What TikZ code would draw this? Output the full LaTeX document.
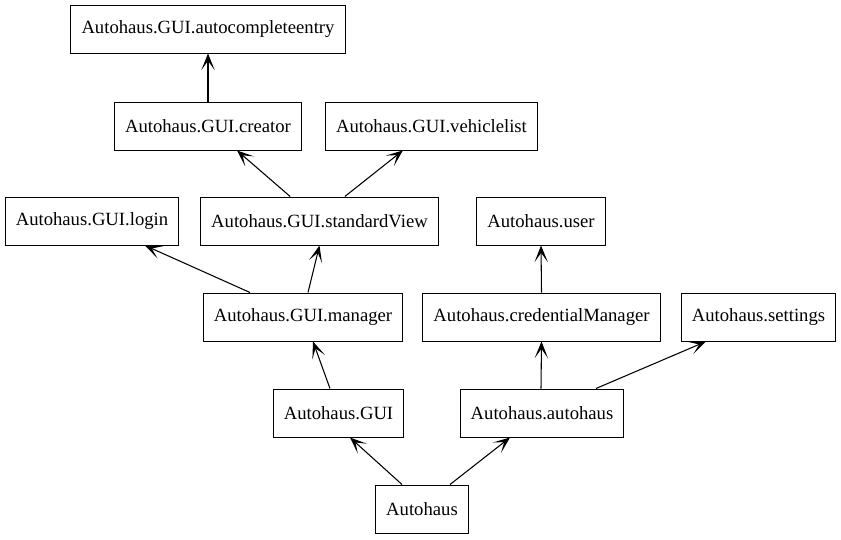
\documentclass[tikz,border=0pt]{standalone}
\usepackage{fontspec}
\setmainfont{Liberation Serif}
\usetikzlibrary{arrows.meta}

\begin{document}
\begin{tikzpicture}[
    x=0.75pt, y=-0.75pt,
    module/.style={rectangle, draw, line width=0.75pt, minimum height=36pt, inner xsep=8pt,
        font=\rmfamily\fontsize{14}{17}\selectfont},
    dep/.style={-{Stealth[length=12.5pt, width=10pt, inset=7pt]}, line width=0.8pt}
]
    \useasboundingbox (0,0) rectangle (841,539);

    % packages
    \node[module] (ac) at (208,29) {Autohaus.GUI.autocompleteentry};
    \node[module] (cr) at (208,126) {Autohaus.GUI.creator};
    \node[module] (vl) at (431.5,126) {Autohaus.GUI.vehiclelist};
    \node[module] (lg) at (92,221) {Autohaus.GUI.login};
    \node[module] (sv) at (319.5,221) {Autohaus.GUI.standardView};
    \node[module] (us) at (541,221) {Autohaus.user};
    \node[module] (mg) at (303,317) {Autohaus.GUI.manager};
    \node[module] (cm) at (541.5,317) {Autohaus.credentialManager};
    \node[module] (st) at (758.5,317) {Autohaus.settings};
    \node[module] (gui) at (338.5,413) {Autohaus.GUI};
    \node[module] (ah) at (542,413) {Autohaus.autohaus};
    \node[module] (root) at (422,509) {Autohaus};

    % imports
    \draw[dep] (cr.north) -- (ac.south);
    \draw[dep] ([xshift=-22pt]sv.north) -- ([xshift=21.75pt]cr.south);
    \draw[dep] ([xshift=19pt]sv.north) -- ([xshift=-21.5pt]vl.south);
    \draw[dep] ([xshift=-39.75pt]mg.north) -- ([xshift=39.75pt]lg.south);
    \draw[dep] ([xshift=3.75pt]mg.north) -- (sv.south);
    \draw[dep] (cm.north) -- (us.south);
    \draw[dep] ([xshift=-6.4pt]gui.north) -- ([xshift=7.5pt]mg.south);
    \draw[dep] ([xshift=-0.75pt]ah.north) -- (cm.south);
    \draw[dep] ([xshift=40.5pt]ah.north) -- ([xshift=-39.4pt]st.south);
    \draw[dep] ([xshift=-15pt]root.north) -- ([xshift=8.6pt]gui.south);
    \draw[dep] ([xshift=21pt]root.north) -- ([xshift=-24pt]ah.south);

\end{tikzpicture}
\end{document}
